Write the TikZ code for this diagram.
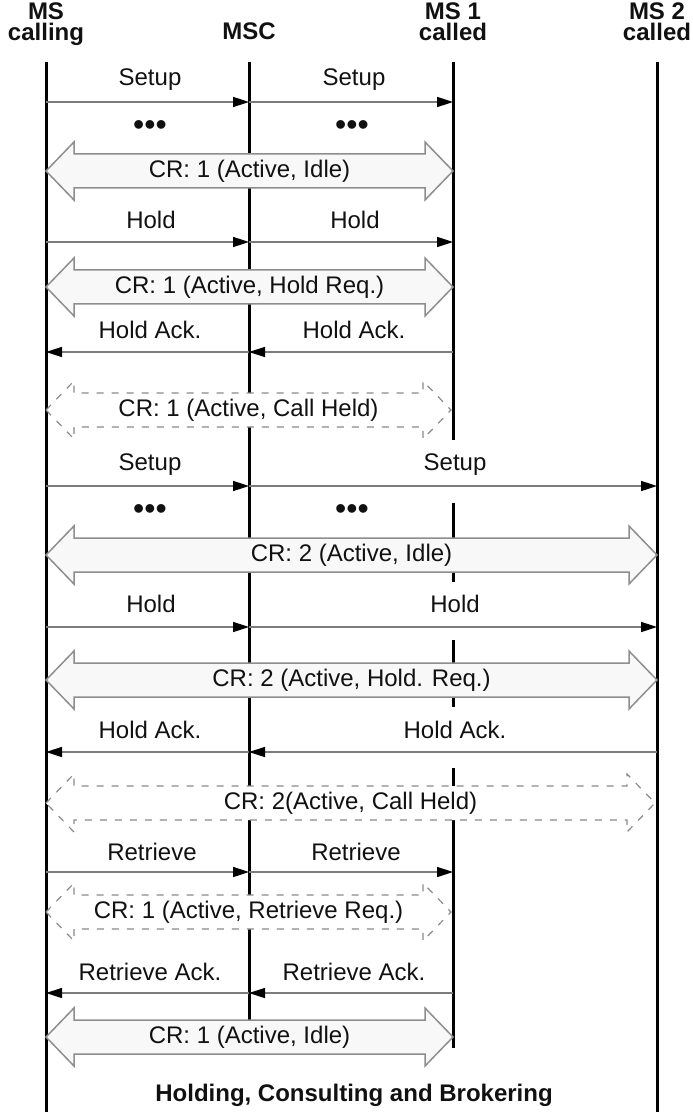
\documentclass[tikz,border=0pt]{standalone}
\usepackage{fontspec}
\setmainfont{Liberation Sans}
\usetikzlibrary{arrows.meta}
\definecolor{msgcol}{HTML}{7C7C7C}
\definecolor{dacol}{HTML}{8E8E8E}
\definecolor{dafill}{HTML}{F8F8F8}
\definecolor{dashcol}{HTML}{8A8A8A}
\definecolor{inkcol}{HTML}{111111}
% #1 style, #2 name, #3 left x, #4 right x, #5 centre y, #6 text
\newcommand{\dblarr}[6]{%
  \draw[#1] (#3,#5) -- ++(28,-29) -- ++(0,12) -- ({#4-28},{#5-17}) -- ++(0,-12)
    -- (#4,#5) -- ({#4-28},{#5+29}) -- ++(0,-12) -- ({#3+28},{#5+17}) -- ++(0,12) -- cycle;
  \node[lbl] (#2) at ({(#3+#4)/2},#5) {#6};
}
\begin{document}
\begin{tikzpicture}[x=0.5pt,y=-0.5pt,
  lifeline/.style={line width=1.5pt, draw=black},
  msg/.style={line width=0.8pt, draw=msgcol, -{Triangle[length=8pt,width=5pt,color=black,fill=black]}},
  lbl/.style={font=\fontsize{12}{14}\selectfont, text=inkcol, inner sep=1pt},
  hdr/.style={font=\bfseries\fontsize{12}{10.5}\selectfont, align=center, inner sep=0pt, text=inkcol},
  dotsty/.style={font=\fontsize{16}{16}\selectfont, inner sep=0pt, text=inkcol},
  dasolid/.style={draw=dacol, fill=dafill, line width=0.75pt, line join=miter},
  dadash/.style={draw=dashcol, fill=white, line width=0.6pt, dash pattern=on 3.5pt off 4pt},
  ttl/.style={font=\bfseries\fontsize{12}{14}\selectfont, text=inkcol}]
\path[use as bounding box] (0,0) rectangle (692,1112);

% headers
\node[hdr] (hA) at (46,24) {MS\\calling};
\node[hdr] (hB) at (249,31.5) {MSC};
\node[hdr] (hC) at (453,21.5) {MS 1\\called};
\node[hdr] (hD) at (657,21.5) {MS 2\\called};

% lifelines
\coordinate (A0) at (46,62);  \coordinate (AZ) at (46,1112);
\coordinate (B0) at (249,62); \coordinate (BZ) at (249,1037);
\coordinate (D0) at (657,62); \coordinate (DZ) at (657,1112);
\coordinate (C0) at (453,62); \coordinate (C0e) at (453,440);
\coordinate (C1s) at (453,503); \coordinate (C1e) at (453,582);
\coordinate (C2s) at (453,640); \coordinate (C2e) at (453,707);
\coordinate (C3s) at (453,768); \coordinate (CZ) at (453,1048);
\draw[lifeline] (A0) -- (AZ);
\draw[lifeline] (B0) -- (BZ);
\draw[lifeline] (D0) -- (DZ);
\draw[lifeline] (C0) -- (C0e);
\draw[lifeline] (C1s) -- (C1e);
\draw[lifeline] (C2s) -- (C2e);
\draw[lifeline] (C3s) -- (CZ);

% ---- section 1
\coordinate (a1) at (46,102); \coordinate (b1) at (249,102); \coordinate (c1) at (453,102);
\draw[msg] (a1) -- (b1); \draw[msg] (b1) -- (c1);
\node[lbl] (t1a) at (150,80) {Setup};
\node[lbl] (t1b) at (354,80) {Setup};
\node[dotsty] (p1a) at (150,128) {•••};
\node[dotsty] (p1b) at (352,128) {•••};
\dblarr{dasolid}{cr1}{46}{453}{171}{CR: 1 (Active, Idle)}

\coordinate (a2) at (46,242); \coordinate (b2) at (249,242); \coordinate (c2) at (453,242);
\draw[msg] (a2) -- (b2); \draw[msg] (b2) -- (c2);
\node[lbl] (t2a) at (151,220) {Hold};
\node[lbl] (t2b) at (355,220) {Hold};
\dblarr{dasolid}{cr2}{46}{453}{287}{CR: 1 (Active, Hold Req.)}

\coordinate (a3) at (46,352); \coordinate (b3) at (249,352); \coordinate (c3) at (453,352);
\draw[msg] (c3) -- (b3); \draw[msg] (b3) -- (a3);
\node[lbl] (t3a) at (150,330) {Hold Ack.};
\node[lbl] (t3b) at (354,330) {Hold Ack.};
\dblarr{dadash}{cr3}{46}{451}{410}{CR: 1 (Active, Call Held)}

% ---- section 2
\coordinate (a4) at (46,486); \coordinate (b4) at (249,486); \coordinate (d4) at (657,486);
\draw[msg] (a4) -- (b4); \draw[msg] (b4) -- (d4);
\node[lbl] (t4a) at (150,465) {Setup};
\node[lbl] (t4b) at (455,465) {Setup};
\node[dotsty] (p4a) at (150,512) {•••};
\node[dotsty] (p4b) at (352,512) {•••};
\dblarr{dasolid}{cr4}{46}{657}{555}{CR: 2 (Active, Idle)}

\coordinate (a5) at (46,627); \coordinate (b5) at (249,627); \coordinate (d5) at (657,627);
\draw[msg] (a5) -- (b5); \draw[msg] (b5) -- (d5);
\node[lbl] (t5a) at (151,604) {Hold};
\node[lbl] (t5b) at (455,604) {Hold};
\dblarr{dasolid}{cr5}{46}{657}{680}{CR: 2 (Active, Hold. Req.)}

\coordinate (a6) at (46,752); \coordinate (b6) at (249,752); \coordinate (d6) at (657,752);
\draw[msg] (d6) -- (b6); \draw[msg] (b6) -- (a6);
\node[lbl] (t6a) at (150,730) {Hold Ack.};
\node[lbl] (t6b) at (455,730) {Hold Ack.};
\dblarr{dadash}{cr6}{46}{655}{803}{CR: 2(Active, Call Held)}

% ---- section 3
\coordinate (a7) at (46,872); \coordinate (b7) at (249,872); \coordinate (c7) at (453,872);
\draw[msg] (a7) -- (b7); \draw[msg] (b7) -- (c7);
\node[lbl] (t7a) at (152,852) {Retrieve};
\node[lbl] (t7b) at (356,852) {Retrieve};
\dblarr{dadash}{cr7}{46}{451}{912}{CR: 1 (Active, Retrieve Req.)}

\coordinate (a8) at (46,993); \coordinate (b8) at (249,993); \coordinate (c8) at (453,993);
\draw[msg] (c8) -- (b8); \draw[msg] (b8) -- (a8);
\node[lbl] (t8a) at (150,972) {Retrieve Ack.};
\node[lbl] (t8b) at (354,972) {Retrieve Ack.};
\dblarr{dasolid}{cr8}{46}{453}{1037}{CR: 1 (Active, Idle)}

\node[ttl] (title) at (354,1095) {Holding, Consulting and Brokering};
\end{tikzpicture}
\end{document}
